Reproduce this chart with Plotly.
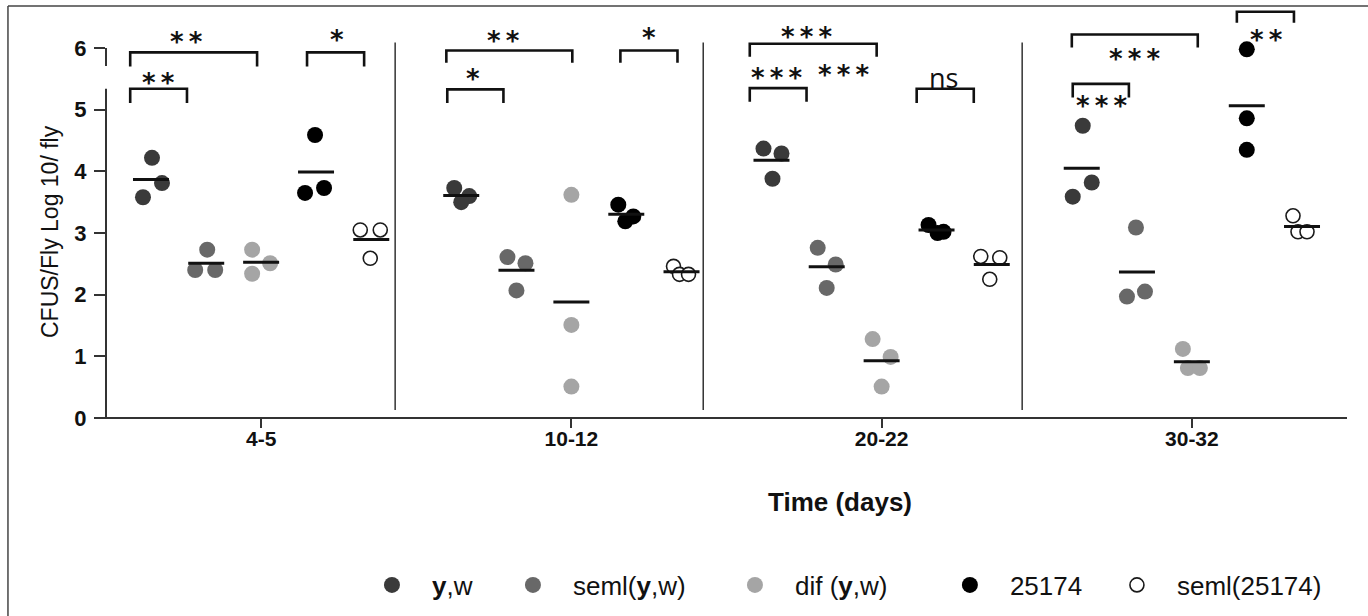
import plotly.graph_objects as go
import numpy as np

# ---------------- data ----------------
categories = ["4-5", "10-12", "20-22", "30-32"]
series_names = ["<b>y</b>,w", "seml(<b>y</b>,w)", "dif (<b>y</b>,w)", "25174", "seml(25174)"]

yw = [[4.22, 3.81, 3.58], [3.73, 3.60, 3.50], [4.37, 4.29, 3.88], [4.74, 3.82, 3.59]]
seml_yw = [[2.73, 2.40, 2.40], [2.61, 2.51, 2.07], [2.76, 2.49, 2.11], [3.09, 2.05, 1.97]]
dif_yw = [[2.73, 2.51, 2.34], [3.62, 1.51, 0.51], [1.28, 0.99, 0.51], [1.12, 0.81, 0.81]]
s25174 = [[4.59, 3.65, 3.73], [3.46, 3.27, 3.19], [3.13, 3.02, 3.00], [5.98, 4.86, 4.35]]
seml_25174 = [[3.05, 3.05, 2.59], [2.46, 2.33, 2.33], [2.62, 2.60, 2.25], [3.28, 3.02, 3.02]]

series_values = [yw, seml_yw, dif_yw, s25174, seml_25174]

AST2 = "*\u2009*"
AST3 = "*\u2009*\u2009*"
# significance brackets: group, start/end (offset in category units), top, leg end, label, label x, label y
brackets = [
    (0, -0.422, -0.013, 5.93, 5.70, AST2, -0.239, 6.22),
    (0, -0.422, -0.239, 5.34, 5.11, AST2, -0.332, 5.55),
    (0, 0.148, 0.332, 5.93, 5.70, "*", 0.245, 6.25),
    (1, -0.403, 0.003, 5.96, 5.76, AST2, -0.219, 6.23),
    (1, -0.400, -0.219, 5.33, 5.11, "*", -0.316, 5.62),
    (1, 0.158, 0.342, 5.96, 5.76, "*", 0.251, 6.27),
    (2, -0.425, -0.016, 6.07, 5.86, AST3, -0.242, 6.30),
    (2, -0.425, -0.242, 5.35, 5.13, AST3, -0.338, 5.63),
    (2, 0.113, 0.297, 5.34, 5.11, "ns", 0.200, 5.52),
    (3, -0.387, 0.019, 6.22, 6.01, AST3, -0.184, 5.93),
    (3, -0.384, -0.203, 5.42, 5.20, AST3, -0.290, 5.18),
    (3, 0.145, 0.329, 6.59, 6.41, AST2, 0.239, 6.25),
]
free_labels = [(2, -0.122, 5.68, AST3)]

# ---------------- styling ----------------
colors = ["#3a3a3a", "#686868", "#a5a5a5", "#000000", "#ffffff"]
line_colors = ["#3a3a3a", "#686868", "#a5a5a5", "#000000", "#1a1a1a"]
offsets = [-0.355, -0.177, 0.0, 0.177, 0.355]
PX = 310.25  # pixels per category unit
jitter_px = [
    [[1, 11, -8], [-7, 8, 0], [-8, 10, 1], [1, 10, -9]],
    [[1, -11, 9], [-9, 9, 0], [-9, 9, 0], [-1, 8, -10]],
    [[-9, 9, -9], [0, 0, 0], [-9, 9, 0], [-9, -4, 8]],
    [[-1, -11, 8], [-8, 7, -1], [-8, 7, 1], [0, 0, 0]],
    [[-11, 9, -1], [-8, -2, 7], [-11, 8, -2], [-9, -4, 5]],
]
legend_x = [0.1982, 0.3118, 0.4907, 0.6639, 0.7985]
half_bar = 0.058
FONT = "Liberation Sans, Arial, sans-serif"
AST_FONT = dict(family="DejaVu Sans", size=26, color="#111111")

fig = go.Figure()

for s, name in enumerate(series_names):
    xs, ys = [], []
    for g in range(len(categories)):
        for k, v in enumerate(series_values[s][g]):
            xs.append(g + offsets[s] + jitter_px[s][g][k] / PX)
            ys.append(v)
    fig.add_trace(go.Scatter(
        x=xs, y=ys, mode="markers", name=name,
        legend="legend" if s == 0 else f"legend{s + 1}",
        marker=dict(size=16 if s < 4 else 14, color=colors[s],
                    line=dict(color=line_colors[s], width=1.6 if s == 4 else 0)),
    ))

# mean lines
for s in range(len(series_names)):
    mx, my = [], []
    for g in range(len(categories)):
        m = float(np.mean(series_values[s][g]))
        c = g + offsets[s]
        mx += [c - half_bar, c + half_bar, None]
        my += [m, m, None]
    fig.add_trace(go.Scatter(x=mx, y=my, mode="lines", showlegend=False,
                             line=dict(color="#111111", width=3), hoverinfo="skip"))

shapes = []
for g, a, b, top, bot, lab, lx, ly in brackets:
    shapes.append(dict(type="path", xref="x", yref="y",
                       path=f"M {g + a} {bot} L {g + a} {top} L {g + b} {top} L {g + b} {bot}",
                       line=dict(color="#111111", width=2.6)))

annotations = []
for g, a, b, top, bot, lab, lx, ly in brackets:
    if lab == "ns":
        annotations.append(dict(x=g + lx, y=ly, xref="x", yref="y", text=lab, showarrow=False,
                                font=dict(family="Open Sans, sans-serif", size=27, color="#111111"),
                                yanchor="middle", xanchor="center"))
    else:
        annotations.append(dict(x=g + lx, y=ly, xref="x", yref="y", text=f"<b>{lab}</b>",
                                showarrow=False, font=AST_FONT,
                                yanchor="middle", xanchor="center", yshift=-7))
for g, lx, ly, lab in free_labels:
    annotations.append(dict(x=g + lx, y=ly, xref="x", yref="y", text=f"<b>{lab}</b>",
                            showarrow=False, font=AST_FONT,
                            yanchor="middle", xanchor="center", yshift=-7))

# separators between groups
for xsep in [0.432, 1.425, 2.453]:
    shapes.append(dict(type="line", xref="x", yref="y", x0=xsep, x1=xsep, y0=0.13, y1=6.09,
                       line=dict(color="#333333", width=1.5)))

# axis lines (y axis broken near the top as in the original)
shapes.append(dict(type="line", xref="paper", yref="paper", x0=-0.009, x1=1.0, y0=0, y1=0,
                   line=dict(color="#333333", width=2)))
shapes.append(dict(type="line", xref="paper", yref="y", x0=0, x1=0, y0=0, y1=5.34,
                   line=dict(color="#333333", width=2)))
shapes.append(dict(type="line", xref="paper", yref="y", x0=0, x1=0, y0=5.71, y1=6.0,
                   line=dict(color="#333333", width=2)))
# outer frame (left and top)
shapes.append(dict(type="line", xref="paper", yref="paper", x0=-0.079, x1=-0.079, y0=-0.49, y1=1.005,
                   line=dict(color="#444444", width=1.5)))
shapes.append(dict(type="line", xref="paper", yref="paper", x0=-0.079, x1=1.02, y0=1.005, y1=1.005,
                   line=dict(color="#444444", width=1.5)))

annotations.append(dict(text="<b>Time (days)</b>", x=(840 - 106) / 1241, y=(418 - 502) / 410,
                        xref="paper", yref="paper", showarrow=False,
                        font=dict(family=FONT, size=26, color="#111111"),
                        xanchor="center", yanchor="middle"))
annotations.append(dict(text="CFUS/Fly Log 10/ fly", x=(50 - 106) / 1241, y=(418 - 232) / 410,
                        xref="paper", yref="paper", showarrow=False, textangle=-90,
                        font=dict(family=FONT, size=23, color="#111111"),
                        xanchor="center", yanchor="middle"))

legend_common = dict(orientation="h", xanchor="left", y=(418 - 585) / 410, yanchor="middle",
                     font=dict(family=FONT, size=26, color="#111111"), itemsizing="trace",
                     itemwidth=70, bgcolor="rgba(0,0,0,0)")

layout_kwargs = {}
for i, lx in enumerate(legend_x):
    key = "legend" if i == 0 else f"legend{i + 1}"
    layout_kwargs[key] = dict(legend_common, x=lx)

fig.update_layout(
    width=1368, height=616,
    margin=dict(l=106, r=21, t=8, b=198),
    paper_bgcolor="white", plot_bgcolor="white",
    shapes=shapes, annotations=annotations,
    xaxis=dict(range=[-0.5, 3.5], tickvals=list(range(len(categories))),
               ticktext=[f"<b>{c}</b>" for c in categories],
               showgrid=False, zeroline=False, showline=False,
               ticks="outside", ticklen=9, tickwidth=1.5, tickcolor="#333333",
               ticklabelstandoff=-7,
               tickfont=dict(family=FONT, size=21, color="#111111")),
    yaxis=dict(range=[0, 6.65], tickvals=[0, 1, 2, 3, 4, 5, 6],
               ticktext=[f"<b>{v}</b>" for v in range(7)],
               showgrid=False, zeroline=False, showline=False,
               ticks="outside", ticklen=11, tickwidth=2, tickcolor="#333333",
               ticklabelstandoff=3,
               tickfont=dict(family=FONT, size=22, color="#111111")),
    showlegend=True,
    **layout_kwargs,
)

fig.write_html("out.html", config={"displayModeBar": False},
               post_script="document.body.style.margin='0';")
